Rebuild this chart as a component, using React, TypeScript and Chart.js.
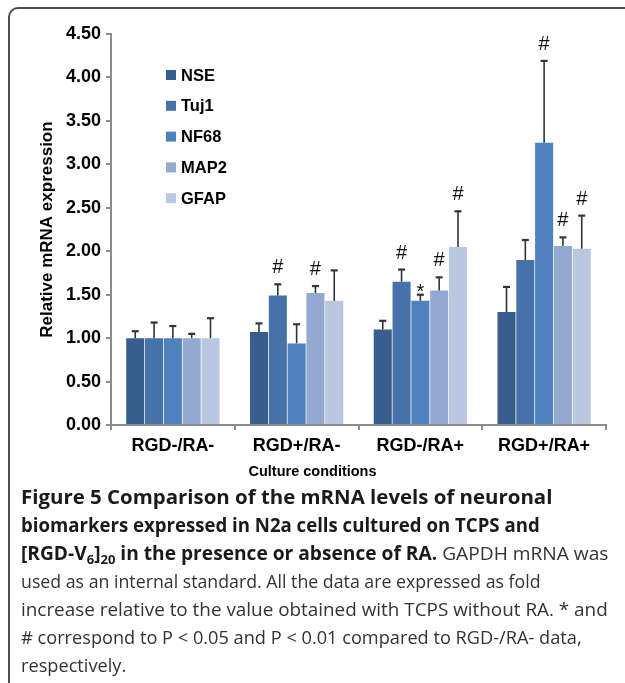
import React, { useEffect, useLayoutEffect, useRef } from "react";
import { Chart, registerables } from "chart.js";

Chart.register(...registerables);

// ---------- data ----------
const categories = ["RGD-/RA-", "RGD+/RA-", "RGD-/RA+", "RGD+/RA+"];
const markerNames = ["NSE", "Tuj1", "NF68", "MAP2", "GFAP"];

const nseMeans = [1.0, 1.07, 1.1, 1.3];
const nseErrors = [0.08, 0.1, 0.1, 0.29];
const tuj1Means = [1.0, 1.49, 1.65, 1.9];
const tuj1Errors = [0.18, 0.13, 0.14, 0.23];
const nf68Means = [1.0, 0.94, 1.43, 3.25];
const nf68Errors = [0.14, 0.22, 0.07, 0.94];
const map2Means = [1.0, 1.52, 1.55, 2.06];
const map2Errors = [0.05, 0.08, 0.15, 0.1];
const gfapMeans = [1.0, 1.43, 2.05, 2.03];
const gfapErrors = [0.23, 0.35, 0.41, 0.38];

const nseMarks = ["", "", "", ""];
const tuj1Marks = ["", "#", "#", ""];
const nf68Marks = ["", "", "*", "#"];
const map2Marks = ["", "#", "#", "#"];
const gfapMarks = ["", "", "#", "#"];

const yMin = 0;
const yMax = 4.5;
const yStep = 0.5;

const yTitle = "Relative mRNA expression";
const xTitle = "Culture conditions";

// ---------- styles ----------
const seriesColors = ["#3A5E8C", "#4572A8", "#4F81BD", "#93A9CF", "#B9C7E1"];
const FONT = "'Liberation Sans', Arial, sans-serif";
const AXIS_GRAY = "#8c8c8c";

const errorBarPlugin = {
  id: "errorBars",
  afterDatasetsDraw(chart: any) {
    const ctx = chart.ctx;
    const y = chart.scales.y;
    chart.data.datasets.forEach((ds: any, i: number) => {
      const meta = chart.getDatasetMeta(i);
      meta.data.forEach((bar: any, j: number) => {
        const top = y.getPixelForValue(ds.data[j] + ds.errors[j]);
        ctx.save();
        ctx.strokeStyle = "#333";
        ctx.lineWidth = 1.6;
        ctx.beginPath();
        ctx.moveTo(bar.x, bar.y);
        ctx.lineTo(bar.x, top);
        ctx.stroke();
        ctx.lineWidth = 2.2;
        ctx.beginPath();
        ctx.moveTo(bar.x - 3.5, top);
        ctx.lineTo(bar.x + 3.5, top);
        ctx.stroke();
        const m = ds.marks[j];
        if (m) {
          ctx.fillStyle = "#111";
          ctx.font = `20px ${FONT}`;
          ctx.textAlign = "center";
          ctx.textBaseline = "alphabetic";
          ctx.fillText(m, bar.x, m === "#" ? top - 11 : top + 3);
        }
        ctx.restore();
      });
    });
  },
};

const insideLegendPlugin = {
  id: "insideLegend",
  afterDraw(chart: any) {
    const { ctx, chartArea } = chart;
    chart.data.datasets.forEach((ds: any, i: number) => {
      const cy = chartArea.top + 41 + i * 30.8;
      ctx.save();
      ctx.fillStyle = ds.backgroundColor;
      ctx.fillRect(chartArea.left + 55, cy - 5, 10, 10);
      ctx.fillStyle = "#000";
      ctx.font = `bold 16.5px ${FONT}`;
      ctx.textAlign = "left";
      ctx.textBaseline = "middle";
      ctx.fillText(ds.label, chartArea.left + 70, cy + 1);
      ctx.restore();
    });
  },
};

function BarChart() {
  const ref = useRef<HTMLCanvasElement | null>(null);
  useEffect(() => {
    if (!ref.current) return;
    const means = [nseMeans, tuj1Means, nf68Means, map2Means, gfapMeans];
    const errors = [nseErrors, tuj1Errors, nf68Errors, map2Errors, gfapErrors];
    const marks = [nseMarks, tuj1Marks, nf68Marks, map2Marks, gfapMarks];
    const chart = new Chart(ref.current, {
      type: "bar",
      data: {
        labels: categories,
        datasets: markerNames.map((name, i) => ({
          label: name,
          data: means[i],
          errors: errors[i],
          marks: marks[i],
          backgroundColor: seriesColors[i],
          borderWidth: 0,
          categoryPercentage: 0.76,
          barPercentage: 0.96,
        })) as any,
      },
      options: {
        responsive: false,
        animation: false,
        layout: { padding: { left: 19, right: 19, top: 34, bottom: 9.5 } },
        plugins: {
          legend: { display: false },
          tooltip: { enabled: false },
          title: {
            display: true,
            position: "bottom",
            text: xTitle,
            color: "#000",
            font: { family: FONT, size: 14.5, weight: "bold" },
            padding: { top: 0, bottom: 0 },
          },
        },
        scales: {
          x: {
            grid: {
              display: true,
              drawOnChartArea: false,
              drawTicks: true,
              tickLength: 5,
              color: AXIS_GRAY,
              lineWidth: 2,
              offset: true,
            },
            border: { display: true, color: AXIS_GRAY, width: 2 },
            ticks: {
              color: "#000",
              font: { family: FONT, size: 18, weight: "bold" },
              padding: 5,
            },
            afterFit: (s: any) => {
              s.height = 38;
            },
          },
          y: {
            min: yMin,
            max: yMax,
            ticks: {
              stepSize: yStep,
              callback: (v: any) => Number(v).toFixed(2),
              color: "#000",
              font: { family: FONT, size: 18, weight: "bold" },
              padding: 5,
            },
            grid: {
              display: true,
              drawOnChartArea: false,
              drawTicks: true,
              tickLength: 5,
              color: AXIS_GRAY,
              lineWidth: 2,
            },
            border: { display: true, color: AXIS_GRAY, width: 2 },
            title: {
              display: true,
              text: yTitle,
              color: "#000",
              font: { family: FONT, size: 17, weight: "bold" },
              padding: { top: 17.8, bottom: 0 },
            },
            afterFit: (s: any) => {
              s.width = 92;
            },
          },
        },
      } as any,
      plugins: [errorBarPlugin, insideLegendPlugin],
    });
    return () => chart.destroy();
  }, []);
  return (
    <canvas
      ref={ref}
      width={625}
      height={490}
      style={{ position: "absolute", left: 0, top: 0 }}
    />
  );
}

// right edge of each caption line (null: reuse the previous line's scale)
const captionTargets: (number | null)[] = [552, 540, 608, 541, 608, 582, null];
const CAPTION_LEFT = 21;

function Caption() {
  const refs = useRef<(HTMLDivElement | null)[]>([]);
  useLayoutEffect(() => {
    const fit = () => {
      let last = 1;
      refs.current.forEach((el, i) => {
        if (!el) return;
        el.style.transform = "none";
        const w = el.scrollWidth;
        const t = captionTargets[i];
        const s = t == null || w <= 0 ? last : (t - CAPTION_LEFT) / w;
        last = s;
        el.style.transform = `scaleX(${s})`;
      });
    };
    fit();
    if ((document as any).fonts && (document as any).fonts.ready) {
      (document as any).fonts.ready.then(fit);
    }
  }, []);
  const bold: React.CSSProperties = { fontWeight: 700, color: "#1a1a1a" };
  const reg: React.CSSProperties = { fontWeight: 400, color: "#333" };
  const sub: React.CSSProperties = {
    fontSize: "0.68em",
    verticalAlign: "-0.3em",
    lineHeight: 0,
  };
  const lines: React.ReactNode[] = [
    <span style={bold}>Figure 5 Comparison of the mRNA levels of neuronal</span>,
    <span style={bold}>biomarkers expressed in N2a cells cultured on TCPS and</span>,
    <>
      <span style={bold}>
        [RGD-V<span style={sub}>6</span>]<span style={sub}>20</span> in the presence or
        absence of RA.
      </span>
      <span style={reg}> GAPDH mRNA was</span>
    </>,
    <span style={reg}>used as an internal standard. All the data are expressed as fold</span>,
    <span style={reg}>increase relative to the value obtained with TCPS without RA. * and</span>,
    <span style={reg}># correspond to P &lt; 0.05 and P &lt; 0.01 compared to RGD-/RA- data,</span>,
    <span style={reg}>respectively.</span>,
  ];
  return (
    <div
      style={{
        position: "absolute",
        left: CAPTION_LEFT,
        top: 483,
        fontFamily: "'Open Sans', sans-serif",
        fontSize: 19,
        lineHeight: "28px",
      }}
    >
      {lines.map((l, i) => (
        <div
          key={i}
          ref={(el) => {
            refs.current[i] = el;
          }}
          style={{
            whiteSpace: "nowrap",
            width: "max-content",
            transformOrigin: "0 0",
            height: 28,
          }}
        >
          {l}
        </div>
      ))}
    </div>
  );
}

export default function App() {
  return (
    <div
      style={{
        position: "fixed",
        left: 0,
        top: 0,
        width: 625,
        height: 683,
        overflow: "hidden",
        background: "#fff",
      }}
    >
      <div
        style={{
          position: "absolute",
          left: 8,
          top: 7,
          width: 700,
          height: 700,
          border: "2px solid #4d4d4d",
          borderRadius: 10,
          boxSizing: "border-box",
        }}
      />
      <BarChart />
      <Caption />
    </div>
  );
}
